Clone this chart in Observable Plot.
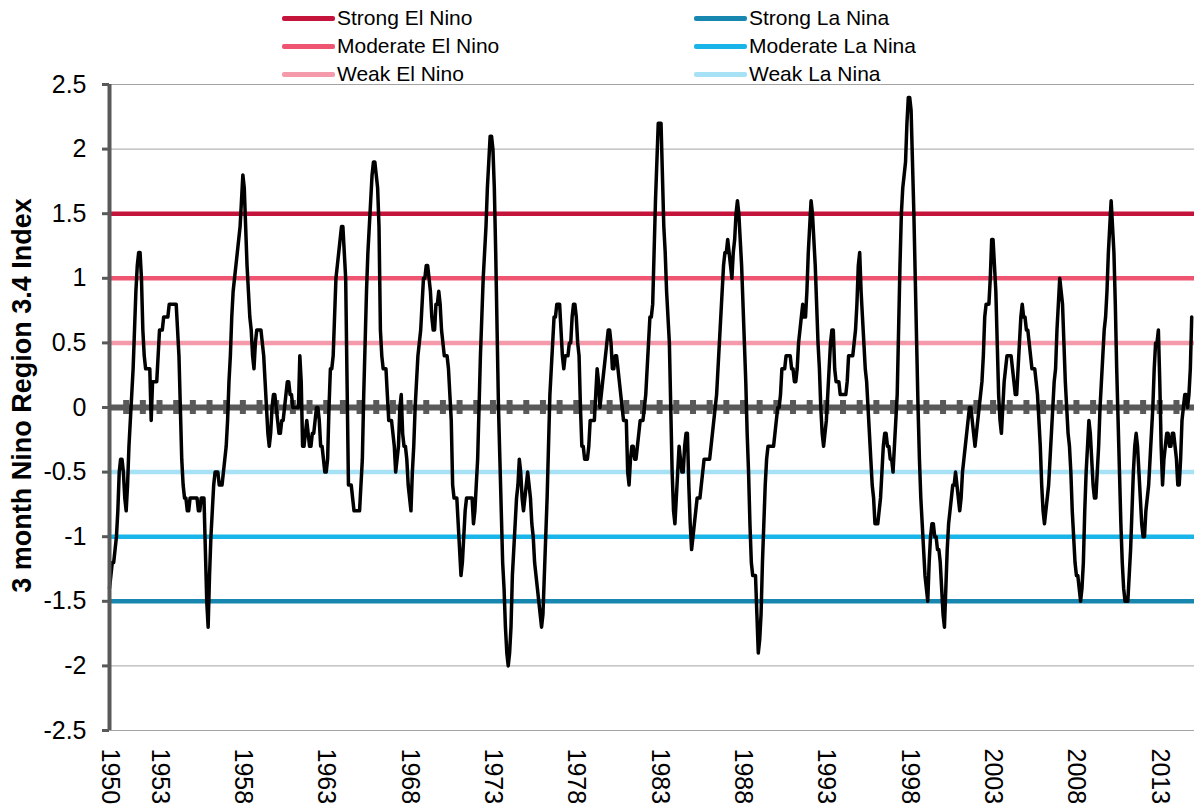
<!DOCTYPE html>
<html>
<head>
<meta charset="utf-8">
<script src="https://cdn.jsdelivr.net/npm/d3@7"></script>
<script src="https://cdn.jsdelivr.net/npm/@observablehq/plot@0.6"></script>
<style>
  html, body { margin: 0; padding: 0; background: #ffffff; }
  body { width: 1194px; height: 808px; overflow: hidden; font-family: "Liberation Sans", Arial, sans-serif; }
  #legend { position: relative; width: 1194px; height: 70px; z-index: 2; }
  .item { position: absolute; display: flex; align-items: center; height: 28px; font-size: 21px; color: #000; white-space: nowrap; }
  .sw { display: inline-block; width: 53px; height: 5px; border-radius: 2px; margin-right: 2px; }
  #chart { position: relative; z-index: 1; }
  #chart svg { background: transparent; overflow: visible; }
</style>
</head>
<body>
<div id="legend"></div>
<div id="chart"></div>
<script>
// ---- Data: 3-month running Nino 3.4 index, Jan 1950 .. Dec 2014 (one value per month) ----
const startYear = 1950;
const oni1950s = [
  -1.4, -1.3, -1.2, -1.2, -1.1, -1.0, -0.8, -0.5, -0.4, -0.4, -0.5, -0.7,
  -0.8, -0.6, -0.3, -0.1, 0.1, 0.3, 0.6, 0.9, 1.1, 1.2, 1.2, 1.0,
  0.6, 0.4, 0.3, 0.3, 0.3, 0.3, -0.1, 0.2, 0.2, 0.2, 0.2, 0.4,
  0.6, 0.6, 0.6, 0.7, 0.7, 0.7, 0.7, 0.8, 0.8, 0.8, 0.8, 0.8,
  0.8, 0.6, 0.4, 0.0, -0.4, -0.6, -0.7, -0.7, -0.8, -0.8, -0.7, -0.7,
  -0.7, -0.7, -0.7, -0.7, -0.8, -0.8, -0.7, -0.7, -0.7, -1.1, -1.5, -1.7,
  -1.3, -1.0, -0.8, -0.6, -0.5, -0.5, -0.5, -0.6, -0.6, -0.6, -0.5, -0.4,
  -0.3, -0.1, 0.2, 0.4, 0.7, 0.9, 1.0, 1.1, 1.2, 1.3, 1.4, 1.6,
  1.8, 1.7, 1.4, 1.1, 0.9, 0.7, 0.6, 0.4, 0.3, 0.5, 0.6, 0.6,
  0.6, 0.6, 0.5, 0.4, 0.2, 0.0, -0.2, -0.3, -0.2, 0.0, 0.1, 0.1
];
const oni1960s = [
  0.0, -0.1, -0.2, -0.2, -0.1, -0.1, 0.0, 0.1, 0.2, 0.2, 0.1, 0.1,
  0.0, 0.0, 0.0, 0.0, 0.0, 0.4, 0.2, -0.3, -0.3, -0.2, -0.1, -0.2,
  -0.3, -0.3, -0.2, -0.2, -0.1, 0.0, 0.0, -0.1, -0.3, -0.3, -0.4, -0.5,
  -0.5, -0.4, 0.0, 0.3, 0.3, 0.4, 0.7, 1.0, 1.1, 1.2, 1.3, 1.4,
  1.4, 1.2, 1.0, 0.2, -0.6, -0.6, -0.6, -0.7, -0.8, -0.8, -0.8, -0.8,
  -0.8, -0.6, -0.4, 0.1, 0.5, 0.9, 1.2, 1.4, 1.6, 1.8, 1.9, 1.9,
  1.8, 1.7, 1.4, 0.6, 0.4, 0.3, 0.3, 0.3, 0.1, -0.1, -0.1, -0.1,
  -0.2, -0.3, -0.5, -0.4, -0.3, 0.0, 0.1, -0.2, -0.3, -0.3, -0.4, -0.6,
  -0.7, -0.8, -0.5, -0.3, 0.0, 0.2, 0.4, 0.5, 0.6, 0.8, 1.0, 1.0,
  1.1, 1.1, 1.0, 0.9, 0.7, 0.6, 0.6, 0.8, 0.8, 0.9, 0.8, 0.6
];
const oni1970s = [
  0.5, 0.4, 0.4, 0.4, 0.3, 0.1, -0.1, -0.6, -0.7, -0.7, -0.7, -0.9,
  -1.1, -1.3, -1.2, -1.0, -0.8, -0.7, -0.7, -0.7, -0.7, -0.7, -0.9, -0.8,
  -0.6, -0.4, 0.0, 0.4, 0.7, 1.0, 1.2, 1.4, 1.7, 1.9, 2.1, 2.1,
  2.0, 1.7, 1.2, 0.6, 0.0, -0.4, -0.8, -1.2, -1.4, -1.7, -1.9, -2.0,
  -1.9, -1.7, -1.3, -1.1, -0.9, -0.7, -0.6, -0.4, -0.5, -0.7, -0.8, -0.7,
  -0.6, -0.5, -0.6, -0.7, -0.9, -1.0, -1.2, -1.3, -1.4, -1.5, -1.6, -1.7,
  -1.6, -1.3, -1.0, -0.7, -0.3, 0.1, 0.3, 0.5, 0.7, 0.7, 0.8, 0.8,
  0.8, 0.6, 0.4, 0.3, 0.4, 0.4, 0.4, 0.5, 0.5, 0.7, 0.8, 0.8,
  0.7, 0.5, 0.4, 0.0, -0.3, -0.3, -0.4, -0.4, -0.4, -0.3, -0.1, -0.1,
  -0.1, -0.1, 0.1, 0.3, 0.2, 0.0, 0.1, 0.2, 0.3, 0.4, 0.5, 0.6
];
const oni1980s = [
  0.6, 0.5, 0.3, 0.3, 0.4, 0.4, 0.3, 0.2, 0.1, 0.0, -0.1, -0.1,
  -0.1, -0.5, -0.6, -0.4, -0.3, -0.3, -0.4, -0.4, -0.3, -0.2, -0.1, -0.1,
  -0.1, 0.0, 0.1, 0.3, 0.5, 0.7, 0.7, 0.8, 1.2, 1.6, 1.9, 2.2,
  2.2, 2.2, 1.8, 1.4, 1.2, 0.9, 0.7, 0.5, 0.0, -0.5, -0.8, -0.9,
  -0.7, -0.5, -0.3, -0.4, -0.5, -0.5, -0.3, -0.2, -0.2, -0.6, -0.9, -1.1,
  -1.0, -0.9, -0.8, -0.7, -0.7, -0.7, -0.6, -0.5, -0.4, -0.4, -0.4, -0.4,
  -0.4, -0.3, -0.2, -0.1, 0.0, 0.1, 0.3, 0.5, 0.7, 0.9, 1.1, 1.2,
  1.2, 1.3, 1.2, 1.1, 1.0, 1.2, 1.3, 1.5, 1.6, 1.5, 1.3, 1.1,
  0.8, 0.5, 0.2, -0.2, -0.5, -0.9, -1.2, -1.3, -1.3, -1.3, -1.6, -1.9,
  -1.8, -1.6, -1.2, -0.9, -0.6, -0.4, -0.3, -0.3, -0.3, -0.3, -0.3, -0.2
];
const oni1990s = [
  -0.1, 0.0, 0.0, 0.1, 0.3, 0.3, 0.3, 0.4, 0.4, 0.4, 0.4, 0.3,
  0.3, 0.2, 0.2, 0.3, 0.5, 0.6, 0.7, 0.8, 0.7, 0.7, 0.9, 1.2,
  1.4, 1.6, 1.5, 1.3, 1.1, 0.8, 0.5, 0.3, 0.0, -0.2, -0.3, -0.2,
  -0.1, 0.1, 0.3, 0.5, 0.6, 0.6, 0.3, 0.2, 0.2, 0.2, 0.1, 0.1,
  0.1, 0.1, 0.1, 0.2, 0.4, 0.4, 0.4, 0.4, 0.5, 0.6, 0.8, 1.1,
  1.2, 0.9, 0.7, 0.5, 0.3, 0.2, 0.0, -0.2, -0.4, -0.6, -0.7, -0.9,
  -0.9, -0.9, -0.8, -0.7, -0.5, -0.3, -0.2, -0.2, -0.3, -0.3, -0.4, -0.4,
  -0.5, -0.3, -0.1, 0.1, 0.6, 1.1, 1.5, 1.7, 1.8, 1.9, 2.2, 2.4,
  2.4, 2.3, 1.9, 1.5, 1.0, 0.5, 0.0, -0.4, -0.7, -0.9, -1.1, -1.3,
  -1.4, -1.5, -1.2, -1.0, -0.9, -0.9, -1.0, -1.0, -1.1, -1.1, -1.2, -1.4
];
const oni2000s = [
  -1.6, -1.7, -1.4, -1.1, -0.9, -0.8, -0.7, -0.6, -0.6, -0.5, -0.6, -0.7,
  -0.8, -0.7, -0.5, -0.4, -0.3, -0.2, -0.1, 0.0, 0.0, -0.1, -0.2, -0.3,
  -0.2, -0.1, 0.0, 0.1, 0.2, 0.4, 0.7, 0.8, 0.8, 0.8, 1.0, 1.3,
  1.3, 1.1, 0.9, 0.5, 0.1, -0.1, -0.2, 0.0, 0.2, 0.3, 0.4, 0.4,
  0.4, 0.4, 0.3, 0.2, 0.1, 0.1, 0.3, 0.5, 0.7, 0.8, 0.7, 0.7,
  0.6, 0.6, 0.5, 0.4, 0.3, 0.3, 0.3, 0.2, 0.1, -0.1, -0.3, -0.6,
  -0.8, -0.9, -0.8, -0.7, -0.6, -0.4, -0.2, 0.0, 0.2, 0.3, 0.6, 0.8,
  1.0, 0.9, 0.8, 0.5, 0.2, 0.0, -0.2, -0.3, -0.5, -0.8, -1.0, -1.2,
  -1.3, -1.3, -1.4, -1.5, -1.4, -1.2, -0.8, -0.5, -0.3, -0.1, -0.2, -0.4,
  -0.6, -0.7, -0.7, -0.5, -0.3, 0.0, 0.2, 0.4, 0.6, 0.7, 0.9, 1.2
];
const oni2010s = [
  1.4, 1.6, 1.4, 1.2, 0.8, 0.3, -0.1, -0.5, -0.9, -1.2, -1.4, -1.5,
  -1.5, -1.5, -1.3, -1.1, -0.8, -0.5, -0.3, -0.2, -0.3, -0.5, -0.7, -0.9,
  -1.0, -1.0, -0.8, -0.7, -0.6, -0.4, -0.2, 0.0, 0.3, 0.5, 0.5, 0.6,
  0.2, -0.3, -0.6, -0.4, -0.3, -0.2, -0.2, -0.3, -0.3, -0.2, -0.2, -0.3,
  -0.4, -0.6, -0.6, -0.4, -0.1, 0.0, 0.1, 0.1, 0.0, 0.1, 0.3, 0.7
];

// Threshold levels
const levelLabels = ["Strong El Nino", "Moderate El Nino", "Weak El Nino", "Strong La Nina", "Moderate La Nina", "Weak La Nina"];
const levelValues = [1.5, 1, 0.5, -1.5, -1, -0.5];
const levelColors = ["#c5143b", "#ef5571", "#f59aab", "#1787b0", "#19b5e8", "#a6e1f5"];

// Axis tick labels
const xTickYears = [1950, 1953, 1958, 1963, 1968, 1973, 1978, 1983, 1988, 1993, 1998, 2003, 2008, 2013];
const yTicks = [2.5, 2, 1.5, 1, 0.5, 0, -0.5, -1, -1.5, -2, -2.5];
const yTitle = "3 month Nino Region 3.4 Index";

// ---- Build tables ----
const monthly = [].concat(oni1950s, oni1960s, oni1970s, oni1980s, oni1990s, oni2000s, oni2010s);
const series = monthly.map((v, i) => ({t: startYear + i / 12, value: v}));
const nYears = Math.floor(monthly.length / 12);
const yearStarts = d3.range(1, nYears).map(k => startYear + k);
const levels = levelLabels.map((label, i) => ({label, value: levelValues[i]}));

// ---- Legend (HTML, above the SVG) ----
const legend = document.getElementById("legend");
const colLeft = [282, 694];
const rowTop = [4, 32, 60];
levels.forEach((d, i) => {
  const item = document.createElement("div");
  item.className = "item";
  item.style.left = colLeft[Math.floor(i / 3)] + "px";
  item.style.top = rowTop[i % 3] + "px";
  const sw = document.createElement("span");
  sw.className = "sw";
  sw.style.background = levelColors[i];
  item.appendChild(sw);
  item.appendChild(document.createTextNode(d.label));
  legend.appendChild(item);
});

// ---- Chart ----
const axisGray = "#595959";
const chart = Plot.plot({
  width: 1194,
  height: 738,
  marginTop: 14,
  marginRight: 0,
  marginBottom: 78,
  marginLeft: 109,
  style: {background: "transparent", fontFamily: "'Liberation Sans', Arial, sans-serif", color: "#000"},
  x: {domain: [startYear, startYear + (monthly.length + 1) / 12]},
  y: {domain: [-2.5, 2.5]},
  color: {domain: levelLabels, range: levelColors},
  marks: [
    Plot.ruleY(yTicks, {y: d => d, stroke: "#a3a3a3", strokeWidth: 1}),
    Plot.ruleY(levels, {y: "value", stroke: "label", strokeWidth: 4.5}),
    Plot.ruleY([0], {y: d => d, stroke: axisGray, strokeWidth: 6}),
    Plot.ruleX(yearStarts, {x: d => d, y1: 0, y2: 0, insetTop: -7, insetBottom: -7, stroke: axisGray, strokeWidth: 6}),
    Plot.line(series, {x: "t", y: "value", stroke: "#000", strokeWidth: 3.5, strokeLinejoin: "round"}),
    Plot.ruleX([startYear], {x: d => d, stroke: axisGray, strokeWidth: 4}),
    Plot.axisY({ticks: yTicks, tickFormat: d => String(d), tickSize: 7, tickPadding: 16, stroke: axisGray, strokeWidth: 3, fontSize: 25, fill: "#000", label: null}),
    Plot.axisX({ticks: xTickYears, tickFormat: d => String(d), tickRotate: 90, tickSize: 0, tickPadding: 18, fontSize: 25, fill: "#000", label: null}),
    Plot.text([yTitle], {text: d => d, frameAnchor: "left", textAnchor: "middle", lineAnchor: "middle", rotate: -90, dx: -87, dy: -12, fontSize: 27, fontWeight: "bold", fill: "#000"})
  ]
});
document.getElementById("chart").appendChild(chart);
</script>
</body>
</html>
